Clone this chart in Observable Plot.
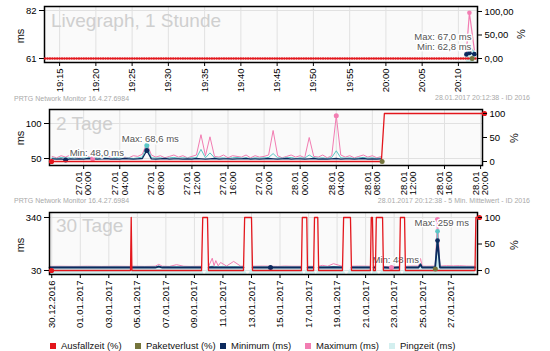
<!DOCTYPE html>
<html><head><meta charset="utf-8">
<script src="https://cdn.jsdelivr.net/npm/d3@7"></script>
<script src="https://cdn.jsdelivr.net/npm/@observablehq/plot@0.6"></script>
<style>
body{margin:0;background:#fff;font-family:"Liberation Sans",Arial,sans-serif;}
#root{position:relative;width:550px;height:351px;overflow:hidden;background:#fff;}
.pl{position:absolute;left:0;}
.hdr{position:absolute;font-size:7px;line-height:8px;color:#a9a9a9;white-space:nowrap;z-index:5;}
.big{position:absolute;font-size:19px;line-height:19px;color:#cfcfcf;white-space:nowrap;z-index:1;}
.yl{position:absolute;font-size:11px;line-height:12px;color:#111;transform:translate(-50%,-50%) rotate(-90deg);white-space:nowrap;}
.lg{position:absolute;top:340px;font-size:9.5px;line-height:11px;color:#111;white-space:nowrap;}
.lg i{display:inline-block;width:6px;height:6px;margin-right:5px;vertical-align:0px;}
</style></head>
<body>
<div id="root"></div>
<script>
// ---------- DATA ----------
// Panel 1: Livegraph, 1 Stunde
const liveDomain = ["2017-01-28T19:12:55", "2017-01-28T20:12:38"];
const liveTickLabels = ["19:15","19:20","19:25","19:30","19:35","19:40","19:45","19:50","19:55","20:00","20:05","20:10"];
const liveOutageStepSec = 20;           // Ausfallzeit samples over the whole hour
const liveOutageValue = 0;              // all 0 %
const livePingTimes = ["20:11:06","20:11:31","20:12:12"];
const liveMin  = [62.8, 63.4, 62.9];
const livePing = [63.4, 67.0, 63.6];
const liveMax  = [63.6, 81.0, 64.8];
const liveLossTimes = ["20:11:54"];
const liveLoss = [0];

// Panel 2: 2 Tage (30-min samples from 26.01 20:30 to 28.01 09:00)
const dayDomain = ["2017-01-26T20:12:38", "2017-01-28T20:12:38"];
const dayTickLabels = ["27.01 00:00","27.01 04:00","27.01 08:00","27.01 12:00","27.01 16:00","27.01 20:00",
                       "28.01 00:00","28.01 04:00","28.01 08:00","28.01 12:00","28.01 16:00","28.01 20:00"];
const dayFirstSample = "2017-01-26T20:30";
const dayStepMin = 30;
const dayMax = [53,51,54,52,55,52,51,54,53,49.5,
                55,51,54,52,53,55,52,51,54,53,
                56,72,55,52,54,51,53,55,52,54,
                51,53,55,84,54,81,53,52,55,51,
                54,53,52,55,51,54,52,53,55,90,
                54,51,53,55,52,54,51,80,53,52,
                55,51,54,111,55,52,54,51,53,55,
                52,54,51,53];
const dayPing = [51,50,51.5,50.5,51,51,50,51,51.5,50.5,
                 51,50.5,51,50,51.5,51,50.5,51,50,51,
                 52,68.6,51,50.5,51,50,51,51.5,50.5,51,
                 50.5,51,51,63,51,58,51,50.5,51,50,
                 51,51.5,50.5,51,50,51,50.5,51,51.5,57,
                 51,50.5,51,51.5,50,51,50.5,55,51,50.5,
                 51,50,51.5,61,51,50.5,51,50,51,51.5,
                 50.5,51,50,51];
const dayMin = [49.5,49,49.5,48,49.5,49,49.5,49,50,49.5,
                49,49.5,50,49,49.5,49,50,49.5,49,49.5,
                50,61.4,49.5,49,49.5,50,49,49.5,49.5,49,
                49.5,49,50,49.5,49,49.5,50,49,49.5,49.5,
                49,49.5,49.5,50,49,49.5,49,49.5,50,49.5,
                49,49.5,50,49,49.5,49.5,49,49.5,50,49,
                49.5,49,49.5,50,49,49.5,49.5,49,49.5,50,
                49,49.5,49,49.5];
const dayOutTimes = ["2017-01-26T20:12:38","2017-01-28T09:00","2017-01-28T09:20","2017-01-28T20:12:38"];
const dayOutVals = [0,0,100,100];
const dayLossTimes = ["2017-01-28T09:05"];
const dayLoss = [0];

// Panel 3: 30 Tage
const monDomain = ["2016-12-29T20:12:38", "2017-01-28T20:12:38"];
const monTickLabels = ["30.12.2016","01.01.2017","03.01.2017","05.01.2017","07.01.2017","09.01.2017","11.01.2017",
  "13.01.2017","15.01.2017","17.01.2017","19.01.2017","21.01.2017","23.01.2017","25.01.2017","27.01.2017"];
const monOutTimes = ["12-29 20:12","01-04 12:30","01-04 13:40","01-04 14:50","01-09 12:00","01-09 14:00","01-09 22:00","01-09 23:45",
  "01-12 10:30","01-12 12:30","01-13 00:00","01-13 01:45","01-16 12:00","01-16 13:30","01-16 21:00","01-16 22:15",
  "01-17 08:30","01-17 10:00","01-17 15:30","01-17 17:00","01-19 09:00","01-19 11:00","01-19 22:30","01-20 00:15",
  "01-21 08:00","01-21 09:30","01-21 11:30","01-21 13:00","01-21 16:30","01-21 18:00","01-22 04:30","01-22 06:00",
  "01-23 09:00","01-23 10:30","01-23 17:30","01-23 19:00","01-28 16:00","01-28 17:30","01-28 20:12"];
const monOutVals = [0, 0,100,0, 0,100,100,0, 0,100,100,0, 0,100,100,0, 0,100,100,0, 0,100,100,0, 0,100,100,0, 0,100,100,0, 0,100,100,0, 0,100,100];
const monPingTimes = [
  "12-29 20:12","12-30 12:00","12-31 12:00","01-01 12:00","01-02 12:00","01-03 12:00","01-04 12:00","01-04 13:40",
  "01-04 15:00","01-05 12:00","01-06 06:00","01-06 12:00","01-06 18:00","01-07 06:00","01-07 18:00","01-08 06:00","01-08 18:00","01-09 11:30","01-09 17:00",
  "01-10 00:00","01-10 06:00","01-10 09:00","01-10 12:00","01-10 16:00","01-10 20:00","01-11 06:00","01-11 18:00","01-12 06:00","01-12 10:30","01-12 18:00",
  "01-13 02:00","01-13 18:00","01-14 08:00","01-14 20:00","01-15 08:00","01-15 20:00","01-16 11:30","01-16 17:00",
  "01-16 22:30","01-17 08:00","01-17 13:00",
  "01-17 17:00","01-17 23:00","01-18 08:00","01-18 18:00","01-19 08:30","01-19 16:00",
  "01-20 00:30","01-20 12:00","01-21 07:30","01-21 10:30",
  "01-21 13:30","01-21 16:00","01-21 23:00",
  "01-22 06:30","01-22 19:30","01-23 08:30","01-23 14:00",
  "01-23 19:30","01-24 08:00","01-24 17:00","01-24 20:20","01-24 23:00","01-25 06:00","01-25 21:00","01-26 01:00","01-26 05:00","01-26 16:00","01-27 04:00","01-27 14:00","01-28 02:00","01-28 16:00"];
const monMin = [47.5,47.5,47.5,47.5,47.5,47.5,47.5,null,
  47.5,47.5,47.5,52,47.5,47.5,48,47.5,47.5,47.5,null,
  47.5,49,47.5,48,47.5,48,47.5,48,47.5,47.5,null,
  47.5,47.5,47.5,47.5,47.5,47.5,47.5,null,
  47.5,47.5,null,
  47.5,48.5,47.5,49,47.5,null,
  47.5,47.5,47.5,null,
  47.5,47.5,null,
  47.5,46,47.5,null,
  47.5,47.5,47.5,65,47.5,47.5,47.5,205,47.5,47.5,47.5,47.5,47.5,47.5];
const monPing = [50,50.5,50,50.5,50,50.5,50,null,
  50,50.5,50,56,50,50.5,51,50,50.5,50,null,
  50,55,50,53,50,52,50,52,50,50.5,null,
  50,50.5,50,50,50.5,50,50,null,
  50,50,null,
  50,51,50,52,50,null,
  50,50.5,50,null,
  50,50,null,
  50,47,50,null,
  50,50.5,50,72,50,50,50.5,259,50,50.5,50,50.5,50,50];
const monMax = [54,55,54,55,54,55,54,null,
  55,54,55,66,55,54,64,55,54,55,null,
  55,102,58,88,57,77,56,83,55,56,null,
  55,56,55,54,56,55,55,null,
  55,55,null,
  55,60,55,70,55,null,
  55,56,55,null,
  55,55,null,
  55,48,55,null,
  55,56,56,100,56,55,56,328,56,58,57,58,56,55];
const monLossTimes = ["01-25 21:20"];
const monLoss = [3];

const legendItems = ["Ausfallzeit (%)","Paketverlust (%)","Minimum (ms)","Maximum (ms)","Pingzeit (ms)"];

// ---------- STYLE ----------
const C = {red:"#e3161c", olive:"#75753c", navy:"#0c2a5e", pink:"#f27db2", teal:"#5cc6c6", tealFill:"#cdeeee", legendTeal:"#d3efef"};
const FONT = '"Liberation Sans", Arial, sans-serif';
const U = s => new Date(s + "Z");
const M = s => U((s.startsWith("12") ? "2016-" : "2017-") + s.replace(" ", "T"));

// ---------- BUILD DATA ROWS ----------
const liveT = s => U("2017-01-28T" + s);
const liveOut = d3.utcSecond.every(liveOutageStepSec).range(U("2017-01-28T19:13:00"), U(liveDomain[1])).map(t => ({t, v: liveOutageValue}));
const liveRows = livePingTimes.map((s,i) => ({t: liveT(s), min: liveMin[i], ping: livePing[i], max: liveMax[i]}));
const liveLossRows = liveLossTimes.map((s,i) => ({t: liveT(s), v: liveLoss[i]}));
const liveTicks = liveTickLabels.map(s => liveT(s + ":00"));

const dayTimes = d3.utcMinute.every(dayStepMin).range(U(dayFirstSample), new Date(+U(dayFirstSample) + dayMax.length*dayStepMin*60000));
const dayRows = dayTimes.map((t,i) => ({t, min: dayMin[i], ping: dayPing[i], max: dayMax[i]}));
const dayOut = dayOutTimes.map((s,i) => ({t: U(s), v: dayOutVals[i]}));
const dayLossRows = dayLossTimes.map((s,i) => ({t: U(s), v: dayLoss[i]}));
const dayTicks = dayTickLabels.map(s => { const [d, h] = s.split(" "); const [dd, mm] = d.split("."); return U(`2017-${mm}-${dd}T${h}`); });

const monRows = monPingTimes.map((s,i) => ({t: M(s), min: monMin[i], ping: monPing[i], max: monMax[i]}));
const monOut = monOutTimes.map((s,i) => ({t: M(s), v: monOutVals[i]}));
const monLossRows = monLossTimes.map((s,i) => ({t: M(s), v: monLoss[i]}));
const monTicks = monTickLabels.map(s => { const [dd, mm, yy] = s.split("."); return U(`${yy}-${mm}-${dd}T00:00`); });

// ---------- PANELS ----------
const root = document.getElementById("root");
function panel(cfg) {
  const common = {width: 550, height: cfg.height, marginTop: cfg.mt, marginBottom: cfg.mb, marginLeft: cfg.ml, marginRight: cfg.mr,
    style: {background: "transparent", overflow: "visible", fontFamily: FONT, fontSize: "9.5px", color: "#000"}};
  const a = Plot.plot({...common,
    x: {type: "utc", domain: cfg.xDomain.map(U)},
    y: {domain: cfg.msDomain},
    marks: [
      Plot.frame({fill: "#fafafa", stroke: null}),
      Plot.gridX(cfg.xTicks, {stroke: "#e1e1e1", strokeOpacity: 1}),
      Plot.gridY(cfg.msTicks, {stroke: "#e1e1e1", strokeOpacity: 1}),
      ...cfg.msMarks,
      Plot.frame({stroke: "#000", strokeWidth: 1.5}),
      Plot.axisX({ticks: cfg.xTicks, tickFormat: cfg.xFmt, tickRotate: -90, tickSize: 4, tickPadding: 2, label: null}),
      Plot.axisY({ticks: cfg.msTicks, tickSize: 5, tickPadding: 3, label: null})
    ]});
  const b = Plot.plot({...common,
    x: {type: "utc", domain: cfg.xDomain.map(U), axis: null},
    y: {domain: cfg.pctDomain},
    marks: [
      ...cfg.pctMarks,
      Plot.axisY({anchor: "right", ticks: [0, 50, 100], tickFormat: cfg.pctFmt, tickSize: 4, tickPadding: 3, label: null})
    ]});
  for (const s of [a, b]) {
    const d = document.createElement("div");
    d.className = "pl"; d.style.top = cfg.top + "px";
    d.appendChild(s); root.appendChild(d);
  }
}
const halo = {fill: "#555", stroke: "white", strokeWidth: 3, fontSize: 9.5};

// Panel 1
panel({top: 0, height: 95, mt: 6, mb: 33, ml: 44, mr: 73,
  xDomain: liveDomain, xTicks: liveTicks, xFmt: d3.utcFormat("%H:%M"),
  msDomain: [59.25, 83.75], msTicks: [61, 82],
  pctDomain: [-8.5, 110.6], pctFmt: d => d.toFixed(2).replace(".", ","),
  msMarks: [
    Plot.areaY(liveRows, {x: "t", y: "ping", fill: C.tealFill, fillOpacity: 0.9, clip: true}),
    Plot.line(liveRows, {x: "t", y: "ping", stroke: C.teal, strokeWidth: 1}),
    Plot.line(liveRows, {x: "t", y: "max", stroke: C.pink, strokeWidth: 1.2}),
    Plot.line(liveRows, {x: "t", y: "min", stroke: C.navy, strokeWidth: 1.2}),
    Plot.dot(liveRows, {x: "t", y: "min", r: 2.3, fill: C.navy}),
    Plot.dot(liveRows.filter(d => d.max === d3.max(liveMax)), {x: "t", y: "max", r: 2.3, fill: C.pink}),
    Plot.text(liveRows.filter(d => d.ping === d3.max(livePing)), {x: "t", y: "ping", text: d => "Max: " + d.ping.toFixed(1).replace(".", ",") + " ms", textAnchor: "end", dx: 2, dy: -8, ...halo}),
    Plot.text(liveRows.filter(d => d.min === d3.min(liveMin)), {x: "t", y: "min", text: d => "Min: " + d.min.toFixed(1).replace(".", ",") + " ms", textAnchor: "end", dx: 5, dy: -7, ...halo})
  ],
  pctMarks: [
    Plot.line(liveOut, {x: "t", y: "v", stroke: C.red, strokeWidth: 1}),
    Plot.dot(liveOut, {x: "t", y: "v", r: 1.3, fill: C.red}),
    Plot.dot(liveLossRows, {x: "t", y: "v", r: 2.5, fill: C.olive})
  ]});

// Panel 2
panel({top: 100, height: 100, mt: 9, mb: 35, ml: 49, mr: 68,
  xDomain: dayDomain, xTicks: dayTicks, xFmt: d => d3.utcFormat("%d.%m")(d) + "\n" + d3.utcFormat("%H:%M")(d),
  msDomain: [40, 120], msTicks: [50, 100],
  pctDomain: [-8.3, 108.3], pctFmt: d => String(d),
  msMarks: [
    Plot.line(dayRows, {x: "t", y: "max", stroke: C.pink, strokeWidth: 1}),
    Plot.line(dayRows, {x: "t", y: "ping", stroke: C.teal, strokeWidth: 1}),
    Plot.line(dayRows, {x: "t", y: "min", stroke: C.navy, strokeWidth: 1.3}),
    Plot.dot(dayRows.filter(d => d.min === d3.min(dayMin)), {x: "t", y: "min", r: 2.5, fill: C.navy}),
    Plot.dot(dayRows.filter(d => d.ping === d3.max(dayPing)), {x: "t", y: "ping", r: 2.5, fill: C.teal}),
    Plot.dot(dayRows.filter(d => d.ping === d3.max(dayPing)), {x: "t", y: "min", r: 2.5, fill: C.navy}),
    Plot.dot(dayRows.filter(d => d.max === d3.max(dayMax) || d.max === d3.min(dayMax)), {x: "t", y: "max", r: 2.5, fill: C.pink}),
    Plot.text(dayRows.filter(d => d.min === d3.min(dayMin)), {x: "t", y: "min", text: d => "Min: " + d.min.toFixed(1).replace(".", ",") + " ms", textAnchor: "start", dx: 4, dy: -7, ...halo}),
    Plot.text(dayRows.filter(d => d.ping === d3.max(dayPing)), {x: "t", y: "ping", text: d => "Max: " + d.ping.toFixed(1).replace(".", ",") + " ms", textAnchor: "start", dx: -25, dy: -7, ...halo})
  ],
  pctMarks: [
    Plot.line(dayOut, {x: "t", y: "v", stroke: C.red, strokeWidth: 1.3}),
    Plot.dot([dayOut[0], dayOut[dayOut.length - 1]], {x: "t", y: "v", r: 2.6, fill: C.red, dx: 2}),
    Plot.dot(dayLossRows, {x: "t", y: "v", r: 2.5, fill: C.olive})
  ]});

// Panel 3
panel({top: 205, height: 120, mt: 7, mb: 51, ml: 49, mr: 73,
  xDomain: monDomain, xTicks: monTicks, xFmt: d3.utcFormat("%d.%m.%Y"),
  msDomain: [6.6, 369.2], msTicks: [30, 340],
  pctDomain: [-7.5, 109.4], pctFmt: d => String(d),
  msMarks: [
    Plot.areaY(monRows, {x: "t", y: "ping", fill: C.tealFill, clip: true}),
    Plot.line(monRows, {x: "t", y: "max", stroke: C.pink, strokeWidth: 1}),
    Plot.line(monRows, {x: "t", y: "ping", stroke: C.teal, strokeWidth: 1}),
    Plot.line(monRows, {x: "t", y: "min", stroke: C.navy, strokeWidth: 1.8}),
    Plot.dot(monRows.filter(d => d.t.getUTCDate() === 14 && d.min != null && d.t.getUTCHours() === 8), {x: "t", y: "min", r: 2.5, fill: C.navy}),
    Plot.dot(monRows.filter(d => d.max === d3.max(monMax)), {x: "t", y: "max", r: 2.6, fill: C.pink}),
    Plot.dot(monRows.filter(d => d.ping === d3.max(monPing)), {x: "t", y: "ping", r: 2.4, fill: C.teal}),
    Plot.dot(monRows.filter(d => d.min === d3.max(monMin)), {x: "t", y: "min", r: 2.4, fill: C.navy}),
    Plot.dot(monRows.filter(d => d.max === d3.min(monMax)), {x: "t", y: "max", r: 2.5, fill: C.pink}),
    Plot.text(monRows.filter(d => d.ping === d3.max(monPing)), {x: "t", y: "ping", text: d => "Max: " + d.ping + " ms", textAnchor: "start", dx: -23, dy: -8, ...halo}),
    Plot.text(monRows.filter(d => d.max === d3.min(monMax)), {x: "t", y: "max", text: d => "Min: " + d.max + " ms", textAnchor: "start", dx: -19, dy: -7, ...halo})
  ],
  pctMarks: [
    Plot.line(monOut, {x: "t", y: "v", stroke: C.red, strokeWidth: 1.3}),
    Plot.dot([monOut[0], monOut[monOut.length - 1]], {x: "t", y: "v", r: 2.6, fill: C.red, dx: 2}),
    Plot.dot(monLossRows, {x: "t", y: "v", r: 2.5, fill: C.olive})
  ]});

// ---------- TEXT OVERLAYS ----------
function html(cls, txt, css) { const d = document.createElement("div"); d.className = cls; d.textContent = txt; Object.assign(d.style, css); root.appendChild(d); return d; }
html("big", "Livegraph, 1 Stunde", {left: "51px", top: "11px"});
html("big", "2 Tage", {left: "56px", top: "114px"});
html("big", "30 Tage", {left: "56px", top: "216px"});
html("hdr", "PRTG Network Monitor 16.4.27.6984", {left: "14px", top: "95px"});
html("hdr", "28.01.2017 20:12:38 - ID 2016", {right: "20px", top: "94px"});
html("hdr", "PRTG Network Monitor 16.4.27.6984", {left: "14px", top: "197px"});
html("hdr", "28.01.2017 20:12:38 - 5 Min. Mittelwert - ID 2016", {right: "20px", top: "197px"});
html("yl", "ms", {left: "20px", top: "36px"});
html("yl", "ms", {left: "20px", top: "138px"});
html("yl", "ms", {left: "20px", top: "245px"});
html("yl", "%", {left: "521px", top: "34px"});
html("yl", "%", {left: "514px", top: "138px"});
html("yl", "%", {left: "514px", top: "245px"});
const lgColors = [C.red, C.olive, C.navy, C.pink, C.legendTeal];
const lgLeft = [50, 135, 220, 305, 389];
legendItems.forEach((t, i) => {
  const d = html("lg", "", {left: lgLeft[i] + "px"});
  const sq = document.createElement("i"); sq.style.background = lgColors[i];
  d.appendChild(sq); d.appendChild(document.createTextNode(t));
});
</script>
</body></html>
